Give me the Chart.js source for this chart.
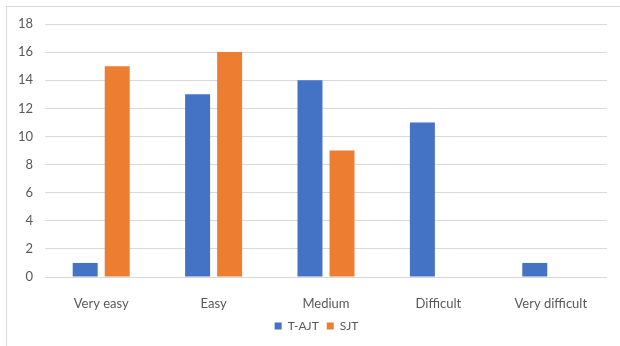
<!DOCTYPE html>
<html>
<head>
<meta charset="utf-8">
<script src="https://cdn.jsdelivr.net/npm/chart.js@4"></script>
<style>
  html, body { margin: 0; padding: 0; background: #fff; overflow: hidden; }
  #wrap { position: relative; width: 620px; height: 346px; }
  #frame { position: absolute; left: 6px; top: 6px; width: 640px; height: 360px; border: 1px solid #d9d9d9; pointer-events: none; }
</style>
</head>
<body>
<div id="wrap">
  <canvas id="difficultyChart" width="620" height="346"></canvas>
  <div id="frame"></div>
</div>
<script>
// categories and series
const categories = ['Very easy', 'Easy', 'Medium', 'Difficult', 'Very difficult'];
const tajt = [1, 13, 14, 11, 1];
const sjt = [15, 16, 9, 0, 0];
const yTicks = [0, 2, 4, 6, 8, 10, 12, 14, 16, 18];

const ctx = document.getElementById('difficultyChart');

//nudging the legend a bit to the right, like the original
const legendShift = {
  id: 'legendShift',
  afterLayout(chart) {
    chart.legend.left += 13;
    chart.legend.right += 13;
  }
};

new Chart(ctx, {
  type: 'bar',
  data: {
    labels: categories,
    datasets: [{
      label: 'T-AJT',
      data: tajt,
      backgroundColor: '#4472C4'
    }, {
      label: 'SJT',
      data: sjt,
      backgroundColor: '#ED7D31'
    }]
  },
  plugins: [legendShift],
  options: {
    responsive: false,
    animation: false,
    datasets: {
      bar: { categoryPercentage: 0.57, barPercentage: 0.78 }
    },
    layout: {
      padding: { left: 0, right: 13, top: 24, bottom: 4 }
    },
    plugins: {
      tooltip: { enabled: false },
      legend: {
        position: 'bottom',
        labels: {
          boxWidth: 7,
          boxHeight: 7,
          padding: 8,
          color: '#595959',
          font: { family: 'Lato', size: 12 }
        }
      }
    },
    scales: {
      x: {
        afterFit: (scale) => { scale.height = 35; },
        grid: { display: false },
        border: { display: false },
        ticks: {
          color: '#595959',
          padding: 11,
          font: { family: 'Lato', size: 13 }
        }
      },
      y: {
        min: 0,
        max: 18,
        afterFit: (scale) => { scale.width = 45; },
        afterBuildTicks: (scale) => { scale.ticks = yTicks.map(v => ({ value: v })); },
        grid: { color: '#d9d9d9', drawTicks: false, lineWidth: 1 },
        border: { display: false },
        ticks: {
          color: '#595959',
          padding: 12,
          font: { family: 'Lato', size: 13 }
        }
      }
    }
  }
});
</script>
</body>
</html>
